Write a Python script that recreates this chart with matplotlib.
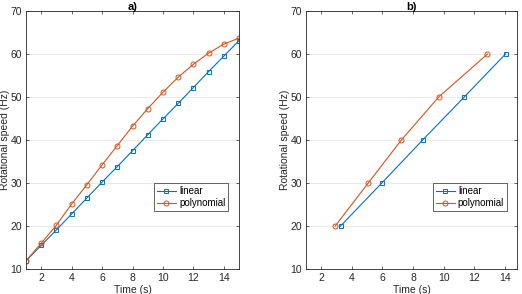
import matplotlib
matplotlib.use("Agg")
import matplotlib.pyplot as plt

plt.rcParams['font.family'] = ['Liberation Sans', 'DejaVu Sans']
plt.rcParams['font.size'] = 7.5

# panel a) data
t_a = list(range(1, 16))
linear_a = [11.9, 15.5, 19.1, 22.8, 26.5, 30.2, 33.8, 37.5, 41.2, 44.9, 48.5, 52.2, 55.9, 59.5, 63.1]
poly_a = [11.9, 16.0, 20.2, 25.1, 29.6, 34.2, 38.7, 43.2, 47.3, 51.1, 54.6, 57.6, 60.2, 62.3, 63.7]

# panel b) data
speed_b = [20, 30, 40, 50, 60]
t_lin_b = [3.26, 5.96, 8.63, 11.35, 14.05]
t_poly_b = [2.91, 5.07, 7.24, 9.68, 12.87]

blue = '#0072BD'
orange = '#D95319'

fig = plt.figure(figsize=(5.22, 2.94), dpi=100)
ax1 = fig.add_axes([26 / 522, 25 / 294, 213 / 522, 258 / 294])
ax2 = fig.add_axes([306 / 522, 25 / 294, 211 / 522, 258 / 294])


def style(ax, title, xmax):
    ax.set_xlim(1, xmax)
    ax.set_ylim(10, 70)
    ax.set_xticks([2, 4, 6, 8, 10, 12, 14])
    ax.set_yticks([10, 20, 30, 40, 50, 60, 70])
    ax.yaxis.grid(True, color='#e6e6e6', linewidth=0.6)
    ax.set_axisbelow(True)
    ax.tick_params(direction='in', top=True, right=True, length=2.5, width=0.5,
                   colors='#262626', labelsize=7.5, pad=3)
    for s in ax.spines.values():
        s.set_color('#262626')
        s.set_linewidth(0.6)
    ax.set_xlabel('Time (s)', color='#262626', labelpad=1)
    ax.set_ylabel('Rotational speed (Hz)', color='#262626', labelpad=0)
    ax.set_title(title, fontweight='bold', fontsize=8, pad=1)
    leg = ax.legend(loc='lower left', bbox_to_anchor=(0.6, 0.225), fontsize=7,
                    fancybox=False, edgecolor='#262626', framealpha=1,
                    borderpad=0.3, labelspacing=0.2, handlelength=2.0, handletextpad=0.3,
                    borderaxespad=0)
    leg.get_frame().set_linewidth(0.5)


ax1.plot(t_a, linear_a, '-s', color=blue, lw=0.8, ms=3.3, mfc='none', mew=0.7, label='linear')
ax1.plot(t_a, poly_a, '-o', color=orange, lw=0.8, ms=3.6, mfc='none', mew=0.7, label='polynomial')
style(ax1, 'a)', 15)

ax2.plot(t_lin_b, speed_b, '-s', color=blue, lw=0.8, ms=3.3, mfc='none', mew=0.7, label='linear')
ax2.plot(t_poly_b, speed_b, '-o', color=orange, lw=0.8, ms=3.6, mfc='none', mew=0.7, label='polynomial')
style(ax2, 'b)', 14.8)

fig.savefig('out.png', dpi=100)
